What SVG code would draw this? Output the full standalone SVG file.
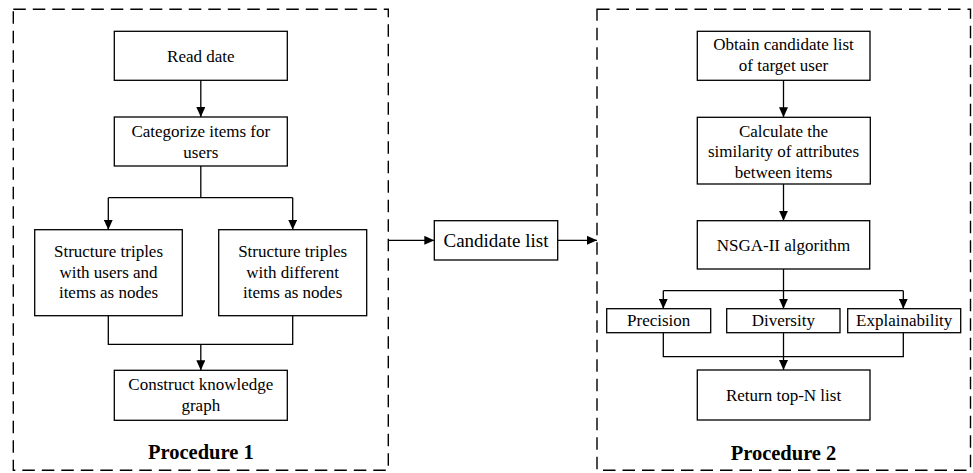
<svg xmlns="http://www.w3.org/2000/svg" width="973" height="473" viewBox="0 0 973 473">
<style>
.frame{fill:none;stroke:#000;stroke-width:1.4;stroke-dasharray:12.5 7}
.box{fill:#fff;stroke:#000;stroke-width:1.3}
.t{font-family:"Liberation Serif","Times New Roman",serif;font-size:17px;fill:#000;text-anchor:middle}
.big{font-size:19px}
.title{font-family:"Liberation Serif","Times New Roman",serif;font-size:20.5px;font-weight:bold;fill:#000;text-anchor:middle}
.c{fill:none;stroke:#000;stroke-width:1.3}
</style>
<defs>
<marker id="arr" markerUnits="userSpaceOnUse" markerWidth="10" markerHeight="9" refX="10" refY="4.5" orient="auto">
<path d="M0,0 L10,4.5 L0,9 Z" fill="#000"/>
</marker>
</defs>
<g id="procedure1">
<rect class="frame" x="13.3" y="9.3" width="375" height="461"/>
<text class="title" x="200.8" y="459">Procedure 1</text>
</g>
<g id="procedure2">
<rect class="frame" x="597" y="9.3" width="373.5" height="461"/>
<text class="title" x="783.5" y="460">Procedure 2</text>
</g>
<g id="connectors">
<line class="c" x1="200.8" y1="80.3" x2="200.8" y2="117" marker-end="url(#arr)"/>
<polyline class="c" points="200.8,166 200.8,197.7"/>
<line class="c" x1="108.3" y1="197.7" x2="292.7" y2="197.7"/>
<line class="c" x1="108.3" y1="197.7" x2="108.3" y2="229.7" marker-end="url(#arr)"/>
<line class="c" x1="292.7" y1="197.7" x2="292.7" y2="229.7" marker-end="url(#arr)"/>
<polyline class="c" points="108.3,315.7 108.3,344.3 292.7,344.3 292.7,315.7"/>
<line class="c" x1="200.8" y1="344.3" x2="200.8" y2="370.3" marker-end="url(#arr)"/>
<line class="c" x1="388.3" y1="240.3" x2="434.3" y2="240.3" marker-end="url(#arr)"/>
<line class="c" x1="557.7" y1="240.3" x2="597" y2="240.3" marker-end="url(#arr)"/>
<line class="c" x1="783.5" y1="80.3" x2="783.5" y2="117.3" marker-end="url(#arr)"/>
<line class="c" x1="783.5" y1="184" x2="783.5" y2="220.7" marker-end="url(#arr)"/>
<line class="c" x1="783.5" y1="269" x2="783.5" y2="308.7" marker-end="url(#arr)"/>
<line class="c" x1="663.3" y1="290.7" x2="903.3" y2="290.7"/>
<line class="c" x1="663.3" y1="290.7" x2="663.3" y2="308.7" marker-end="url(#arr)"/>
<line class="c" x1="903.3" y1="290.7" x2="903.3" y2="308.7" marker-end="url(#arr)"/>
<polyline class="c" points="663.3,332.7 663.3,356.7 903.3,356.7 903.3,332.7"/>
<line class="c" x1="783.5" y1="332.7" x2="783.5" y2="370" marker-end="url(#arr)"/>
</g>
<g id="read-date">
<rect class="box" x="114.3" y="31.3" width="173" height="49"/>
<text class="t" x="200.8" y="61.8">Read date</text>
</g>
<g id="categorize">
<rect class="box" x="114.3" y="117" width="173" height="49"/>
<text class="t" x="200.8" y="136.7">Categorize items for</text>
<text class="t" x="200.8" y="157.5">users</text>
</g>
<g id="triples-users">
<rect class="box" x="34.7" y="229.7" width="147.6" height="86"/>
<text class="t" x="108.5" y="257.3">Structure triples</text>
<text class="t" x="108.5" y="277.8">with users and</text>
<text class="t" x="108.5" y="298.3">items as nodes</text>
</g>
<g id="triples-items">
<rect class="box" x="218.7" y="229.7" width="148" height="86"/>
<text class="t" x="292.7" y="257.3">Structure triples</text>
<text class="t" x="292.7" y="277.8">with different</text>
<text class="t" x="292.7" y="298.3">items as nodes</text>
</g>
<g id="construct-kg">
<rect class="box" x="114.3" y="370.3" width="173" height="50"/>
<text class="t" x="200.8" y="390">Construct knowledge</text>
<text class="t" x="200.8" y="411">graph</text>
</g>
<g id="candidate-list">
<rect class="box" x="434.3" y="220.7" width="123.4" height="39.3"/>
<text class="t big" x="496" y="246.7">Candidate list</text>
</g>
<g id="obtain">
<rect class="box" x="697.3" y="31.3" width="172.7" height="49"/>
<text class="t" x="783.5" y="50.3">Obtain candidate list</text>
<text class="t" x="783.5" y="71">of target user</text>
</g>
<g id="calculate">
<rect class="box" x="697.3" y="117.3" width="173" height="66.7"/>
<text class="t" x="783.5" y="136.5">Calculate the</text>
<text class="t" x="783.5" y="157">similarity of attributes</text>
<text class="t" x="783.5" y="177.5">between items</text>
</g>
<g id="nsga">
<rect class="box" x="697.3" y="220.7" width="172.4" height="48.3"/>
<text class="t" x="783.5" y="250.5">NSGA-II algorithm</text>
</g>
<g id="precision">
<rect class="box" x="606.7" y="308.7" width="104" height="24"/>
<text class="t" x="658.7" y="326.3">Precision</text>
</g>
<g id="diversity">
<rect class="box" x="726.7" y="308.7" width="113.3" height="24"/>
<text class="t" x="783.3" y="326.3">Diversity</text>
</g>
<g id="explainability">
<rect class="box" x="847.7" y="308.7" width="113" height="24"/>
<text class="t" x="904.2" y="326.3">Explainability</text>
</g>
<g id="return-topn">
<rect class="box" x="697.3" y="370" width="172.7" height="50"/>
<text class="t" x="783.5" y="400.7">Return top-N list</text>
</g>
</svg>
